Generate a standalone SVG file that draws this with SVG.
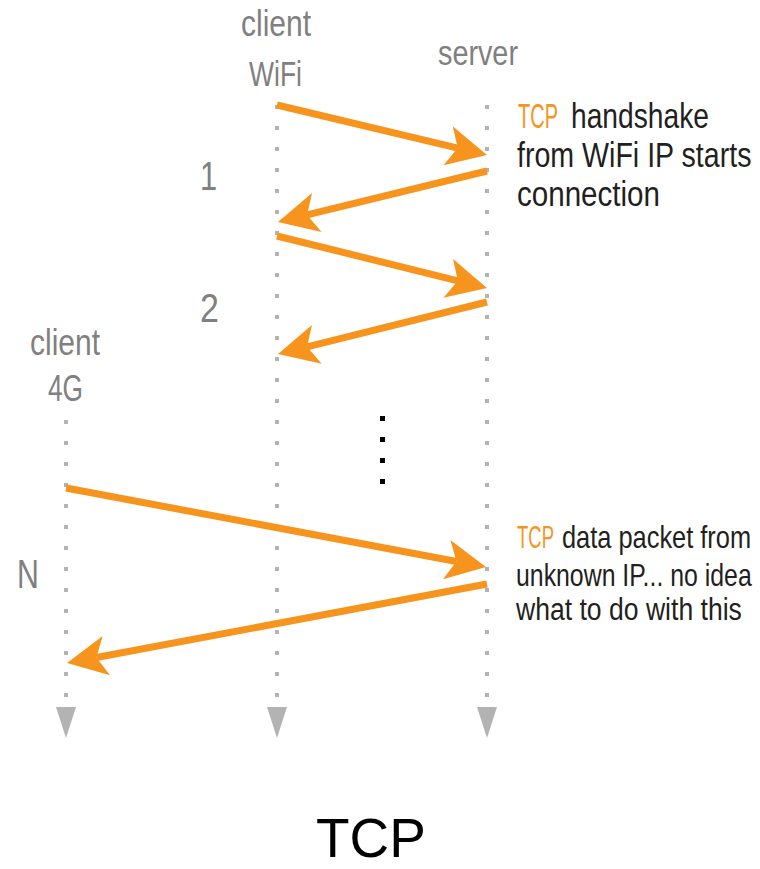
<svg xmlns="http://www.w3.org/2000/svg" width="760" height="869" viewBox="0 0 760 869">
<style>
.lbl{font-family:"Liberation Sans",Arial,sans-serif;fill:#808080;font-size:36px}
.num{font-family:"Liberation Sans",Arial,sans-serif;fill:#808080;font-size:41px}
.note{font-family:"Liberation Sans",Arial,sans-serif;fill:#231f20;font-size:35px}
.note2{font-family:"Liberation Sans",Arial,sans-serif;fill:#231f20;font-size:31px}
.tcp{fill:#f7941d}
.life{stroke:#b3b3b3;stroke-width:4;stroke-dasharray:4 17;fill:none}
.end{fill:#b3b3b3}
.msg{stroke:#f7941d;stroke-width:7;fill:none;marker-end:url(#ah)}
.title{font-family:"Liberation Sans",Arial,sans-serif;fill:#000;font-size:56px}
</style>
<defs>
<marker id="ah" viewBox="-45 -25 50 50" markerWidth="50" markerHeight="50" refX="-30" refY="0" markerUnits="userSpaceOnUse" orient="auto">
<path d="M0,0 L-40,-20 L-30,0 L-40,20 Z" fill="#f7941d"/>
</marker>
</defs>
<g id="client4g">
<text class="lbl" transform="translate(30,355) scale(0.833,1)">client</text>
<text class="lbl" transform="translate(48,401) scale(0.73,1)">4G</text>
<line class="life" x1="66" y1="420" x2="66" y2="698"/>
<polygon class="end" points="56,707 76,707 66,738"/>
</g>
<g id="clientwifi">
<text class="lbl" transform="translate(241,36) scale(0.833,1)">client</text>
<text class="lbl" transform="translate(249,86) scale(0.736,1)">WiFi</text>
<line class="life" x1="277" y1="105" x2="277" y2="698"/>
<polygon class="end" points="267,707 287,707 277,738"/>
</g>
<g id="server">
<text class="lbl" transform="translate(438,65) scale(0.8,1)">server</text>
<line class="life" x1="487" y1="105" x2="487" y2="698"/>
<polygon class="end" points="477,707 497,707 487,738"/>
</g>
<g id="steps">
<text class="num" transform="translate(200,190) scale(0.75,1)">1</text>
<text class="num" transform="translate(200,322) scale(0.83,1)">2</text>
<text class="num" transform="translate(17,588) scale(0.74,1)">N</text>
</g>
<g id="ellipsis" fill="#000">
<rect x="380" y="416" width="5" height="5"/>
<rect x="380" y="437" width="5" height="5"/>
<rect x="380" y="458" width="5" height="5"/>
<rect x="380" y="479" width="5" height="5"/>
</g>
<g id="note1">
<text class="note tcp" transform="translate(518,128) scale(0.571,1)">TCP</text>
<text class="note" transform="translate(571,128) scale(0.806,1)">handshake</text>
<text class="note" transform="translate(517,167) scale(0.817,1)">from WiFi IP starts</text>
<text class="note" transform="translate(517,206) scale(0.845,1)">connection</text>
</g>
<g id="note2">
<text class="note2 tcp" transform="translate(517,548) scale(0.597,1)">TCP</text>
<text class="note2" transform="translate(562,548) scale(0.819,1)">data packet from</text>
<text class="note2" transform="translate(516,586) scale(0.802,1)">unknown IP... no idea</text>
<text class="note2" transform="translate(516,620) scale(0.857,1)">what to do with this</text>
</g>
<g id="connectors">
<line class="msg" x1="277" y1="105" x2="457.8" y2="148.1"/>
<line class="msg" x1="487" y1="171" x2="307.1" y2="214.9"/>
<line class="msg" x1="277" y1="236" x2="457.9" y2="280.8"/>
<line class="msg" x1="487" y1="302" x2="307.1" y2="346.8"/>
<line class="msg" x1="66" y1="488" x2="456.5" y2="561.5"/>
<line class="msg" x1="487" y1="584" x2="96.5" y2="657.5"/>
</g>
<text class="title" transform="translate(316,857) scale(0.98,1)">TCP</text>
</svg>
